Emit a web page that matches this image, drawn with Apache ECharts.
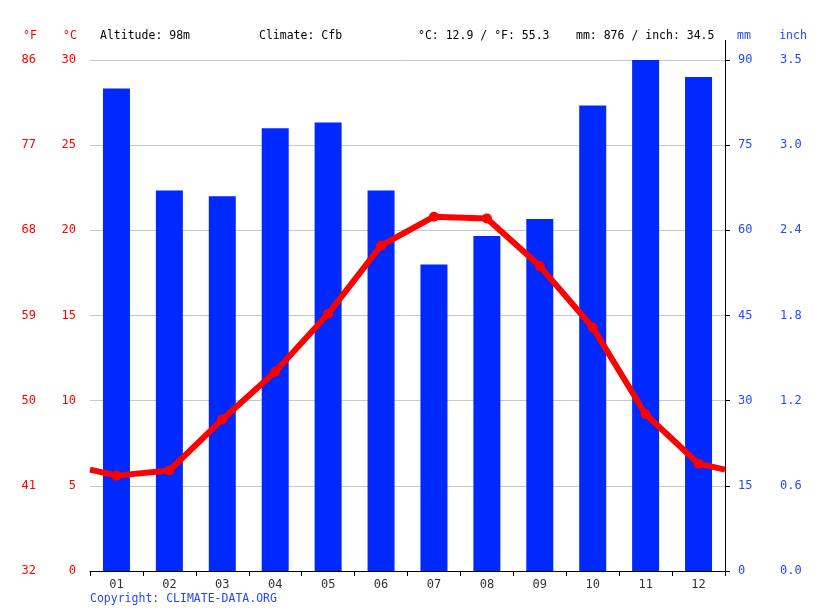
<!DOCTYPE html>
<html>
<head>
<meta charset="utf-8">
<script src="https://cdn.jsdelivr.net/npm/echarts@6/dist/echarts.min.js"></script>
<style>
  html, body { margin: 0; padding: 0; background: #fff; }
  #chart { width: 815px; height: 611px; }
</style>
</head>
<body>
<div id="chart"></div>
<script>
// 月份与数据
const months = ['01', '02', '03', '04', '05', '06', '07', '08', '09', '10', '11', '12'];
const precipMm = [85, 67, 66, 78, 79, 67, 54, 59, 62, 82, 90, 87];
const tempC = [5.6, 5.9, 8.9, 11.7, 15.1, 19.1, 20.8, 20.7, 17.9, 14.3, 9.2, 6.3];

const headerTexts = [
  { x: 100, text: 'Altitude: 98m' },
  { x: 259, text: 'Climate: Cfb' },
  { x: 418, text: '°C: 12.9 / °F: 55.3' },
  { x: 576, text: 'mm: 876 / inch: 34.5' }
];

const FONT = '"DejaVu Sans Mono", monospace';
const RED = '#ff0000';
const BLUE = '#0029ff';
const BLUE_TXT = '#2447ff';

// 折线两端：十二月与一月的中间值，画到图边
const edge = (tempC[11] + tempC[0]) / 2;
const lineData = [{ value: [0, edge], symbol: 'none' }]
  .concat(tempC.map((t, i) => [i + 0.5, t]))
  .concat([{ value: [12, edge], symbol: 'none' }]);

const chart = echarts.init(document.getElementById('chart'));

const txt = (x, y, text, color, align) => ({
  type: 'text', x: x, y: y,
  style: { text: text, fill: color, font: '11.5px ' + FONT, textAlign: align || 'left', textVerticalAlign: 'middle' }
});

chart.setOption({
  animation: false,
  backgroundColor: '#fff',
  grid: { left: 90, right: 90, top: 60, bottom: 40 },
  xAxis: [
    {
      type: 'category',
      data: months,
      axisLine: { lineStyle: { color: '#000', width: 1 } },
      axisTick: { show: true, length: 5, lineStyle: { color: '#000' } },
      axisLabel: { color: '#333', fontFamily: FONT, fontSize: 12, margin: 8 },
      splitLine: { show: false }
    },
    {
      type: 'value', min: 0, max: 12, show: false
    }
  ],
  yAxis: [
    {
      type: 'value', position: 'left', min: 0, max: 30, interval: 5,
      axisLine: { show: false }, axisTick: { show: false },
      axisLabel: { color: RED, fontFamily: FONT, fontSize: 12, margin: 14 },
      splitLine: { lineStyle: { color: '#c8c8c8', width: 1 } }
    },
    {
      type: 'value', position: 'left', offset: 40, min: 0, max: 30, interval: 5,
      axisLine: { show: false }, axisTick: { show: false },
      axisLabel: {
        color: RED, fontFamily: FONT, fontSize: 12, margin: 14,
        formatter: v => String(Math.round(v * 9 / 5 + 32))
      },
      splitLine: { show: false }
    },
    {
      type: 'value', position: 'right', min: 0, max: 90, interval: 15,
      axisLine: { show: true, lineStyle: { color: '#000', width: 1 } },
      axisTick: { show: true, length: 5, lineStyle: { color: '#000' } },
      axisLabel: { color: BLUE_TXT, fontFamily: FONT, fontSize: 12, margin: 13 },
      splitLine: { show: false }
    },
    {
      type: 'value', position: 'right', offset: 42, min: 0, max: 90, interval: 15,
      axisLine: { show: false }, axisTick: { show: false },
      axisLabel: {
        color: BLUE_TXT, fontFamily: FONT, fontSize: 12, margin: 13,
        formatter: v => (v / 25.4).toFixed(1)
      },
      splitLine: { show: false }
    }
  ],
  graphic: [
    txt(30, 36, '°F', RED, 'center'),
    txt(70, 36, '°C', RED, 'center'),
    txt(744, 36, 'mm', BLUE_TXT, 'center'),
    txt(793, 36, 'inch', BLUE_TXT, 'center'),
    ...headerTexts.map(h => txt(h.x, 36, h.text, '#000')),
    txt(90, 599, 'Copyright: CLIMATE-DATA.ORG', BLUE_TXT),
    { type: 'line', shape: { x1: 725.5, y1: 40, x2: 725.5, y2: 60 }, style: { stroke: '#000', lineWidth: 1 } }
  ],
  series: [
    {
      type: 'bar',
      name: 'mm',
      xAxisIndex: 0,
      yAxisIndex: 2,
      data: precipMm,
      barWidth: 27,
      itemStyle: { color: BLUE },
      z: 2
    },
    {
      type: 'line',
      name: '°C',
      xAxisIndex: 1,
      yAxisIndex: 0,
      data: lineData,
      symbol: 'circle',
      symbolSize: 10,
      lineStyle: { color: RED, width: 6 },
      itemStyle: { color: RED },
      z: 5
    }
  ]
});
</script>
</body>
</html>
